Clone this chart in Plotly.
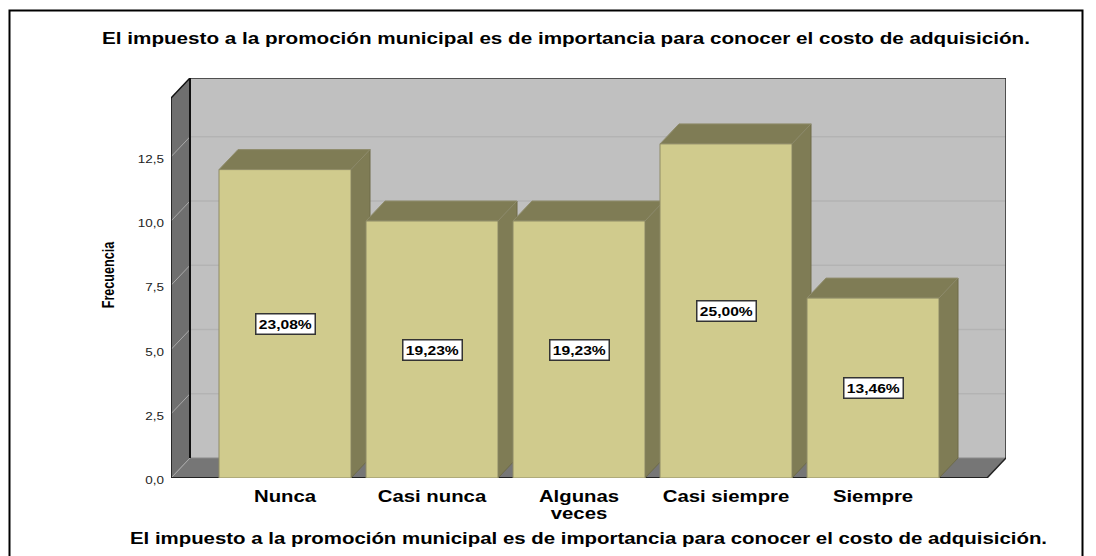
import plotly.graph_objects as go

categories = ["Nunca", "Casi nunca", "Algunas<br>veces", "Casi siempre", "Siempre"]
frequencies = [12, 10, 10, 13, 7]
percent_labels = ["23,08%", "19,23%", "19,23%", "25,00%", "13,46%"]
y_ticks = [0, 2.5, 5, 7.5, 10, 12.5]
main_title = "El impuesto a la promoción municipal es de importancia para conocer el costo de adquisición."
y_title = "Frecuencia"

W, H = 1096, 556
PX_CAT = 147.0      # pixels per category
PX_UNIT = 25.7      # pixels per frequency unit
DX = 19 / PX_CAT    # depth in x units
DY = 20 / PX_UNIT   # depth in y units
BAR_W = 132 / PX_CAT
L, R, T, B = 171, 1006, 78, 478
x_range = [(L - 285) / PX_CAT, (R - 285) / PX_CAT]
y_range = [0, (B - T) / PX_UNIT]
y_front_top = y_range[1] - DY
x_front_right = x_range[1] - DX
x_wall = x_range[0] + DX

FRONT, SHADE, EDGE = "#D0CB8D", "#7F7C55", "#8E8B66"
SANS = "Liberation Sans"
fig = go.Figure()


def poly(xs, ys, color, line):
    fig.add_trace(go.Scatter(x=xs, y=ys, mode="lines", fill="toself", fillcolor=color,
                             line=dict(color=line, width=1), hoverinfo="skip", showlegend=False))


for i, v in enumerate(frequencies):
    xl, xr = i - BAR_W / 2, i + BAR_W / 2
    poly([xr, xr + DX, xr + DX, xr, xr], [0, DY, v + DY, v, 0], SHADE, "#6E6B49")
    poly([xl, xl + DX, xr + DX, xr, xl], [v, v + DY, v + DY, v, v], SHADE, "#8F8C6C")

fig.add_trace(go.Bar(x=list(range(len(categories))), y=frequencies, width=BAR_W, xaxis="x2", yaxis="y2",
                     marker=dict(color=FRONT, line=dict(color=EDGE, width=1)), hoverinfo="skip", showlegend=False))


def seg(x0, y0, x1, y1, color, width=1, layer="below"):
    return dict(type="line", xref="x", yref="y", x0=x0, y0=y0, x1=x1, y1=y1,
                line=dict(color=color, width=width), layer=layer)


shapes = [
    dict(type="rect", xref="x", yref="y", x0=x_wall, x1=x_range[1], y0=DY, y1=y_range[1],
         fillcolor="#C0C0C0", line=dict(width=0), layer="below"),
    dict(type="path", xref="x", yref="y", layer="below", fillcolor="#6F6F6F", line=dict(width=0),
         path=f"M{x_range[0]},0 L{x_wall},{DY} L{x_wall},{y_range[1]} L{x_range[0]},{y_front_top} Z"),
    dict(type="path", xref="x", yref="y", layer="below", fillcolor="#767676", line=dict(width=0),
         path=f"M{x_range[0]},0 L{x_wall},{DY} L{x_range[1]},{DY} L{x_front_right},0 Z"),
]
for t in y_ticks[1:]:
    shapes.append(seg(x_wall, t + DY, x_range[1], t + DY, "#B3B3B3", 1.5))
    shapes.append(seg(x_range[0], t, x_wall, t + DY, "#A8A8A8", 1))
shapes += [
    seg(x_range[0], 0, x_wall, DY, "#A8A8A8", 1),
    seg(x_wall, DY, x_range[1], DY, "#8A8A8A", 1),
    seg(x_wall, y_range[1], x_range[1], y_range[1], "#2A2A2A", 1.5),
    seg(x_range[1], DY, x_range[1], y_range[1], "#2A2A2A", 1.5),
    seg(x_wall, DY, x_wall, y_range[1], "#111111", 2),
    seg(x_range[0], 0, x_range[0], y_front_top, "#111111", 1.5),
    seg(x_range[0], y_front_top, x_wall, y_range[1], "#111111", 1.5),
    seg(x_range[0], 0, x_front_right, 0, "#222222", 2),
    seg(x_front_right, 0, x_range[1], DY, "#222222", 1.5),
    dict(type="rect", xref="paper", yref="paper", x0=9.5 / W, x1=1082.5 / W, y0=-0.02, y1=1 - 10.5 / H,
         line=dict(color="#000000", width=2), fillcolor="rgba(0,0,0,0)", layer="below"),
]

annotations = [
    dict(x=i, y=v / 2, xref="x2", yref="y2", text=p, showarrow=False, width=56, height=17,
         font=dict(family=SANS, size=13, color="#000000", weight="bold"),
         bgcolor="#FFFFFF", bordercolor="#333333", borderwidth=1.5, borderpad=1)
    for i, (v, p) in enumerate(zip(frequencies, percent_labels))
]

bold16 = dict(family=SANS, size=16, color="#000000", weight="bold")
fig.update_layout(
    width=W, height=H, autosize=False, margin=dict(l=0, r=0, t=0, b=0),
    paper_bgcolor="#FFFFFF", plot_bgcolor="rgba(0,0,0,0)", separators=",.", barmode="overlay",
    title=dict(text=main_title, x=566 / W, xanchor="center", xref="container",
               y=1 - 38 / H, yanchor="middle", yref="container", font=bold16),
    xaxis=dict(domain=[L / W, R / W], range=x_range, tickmode="array", tickvals=list(range(len(categories))),
               ticktext=categories, tickfont=bold16, ticks="", automargin=False,
               showgrid=False, zeroline=False, showline=False, ticklabelstandoff=7,
               title=dict(text=main_title, standoff=8, font=bold16)),
    yaxis=dict(domain=[1 - B / H, 1 - T / H], range=y_range, tickmode="array", tickvals=y_ticks, automargin=False,
               tickformat=".1f", tickfont=dict(family=SANS, size=11.5, color="#222222"),
               ticks="", showgrid=False, zeroline=False, showline=False, ticklabelstandoff=6,
               title=dict(text=y_title, standoff=22, font=dict(family=SANS, size=17, color="#000000", weight="bold"))),
    xaxis2=dict(overlaying="x", matches="x", domain=[L / W, R / W], visible=False, anchor="y2"),
    yaxis2=dict(overlaying="y", matches="y", domain=[1 - B / H, 1 - T / H], visible=False, anchor="x2"),
    shapes=shapes, annotations=annotations,
)

# The reference's text is horizontally stretched: widen the real text elements to match.
post = """
document.body.style.margin='0';document.body.style.overflow='hidden';
function st(sel,f){document.querySelectorAll(sel).forEach(function(t){
  var lines=t.querySelectorAll('tspan.line');
  var items=lines.length?Array.from(lines):[t];
  items.forEach(function(n,i){
    n.setAttribute('textLength',n.getComputedTextLength()*f);
    n.setAttribute('lengthAdjust','spacingAndGlyphs');
    if(i>0){n.setAttribute('dy','1.05em');}
  });
});}
st('.gtitle',1.29);st('.xtitle',1.275);st('.xtick text',1.27);st('.ytick text',1.17);
st('.annotation-text',1.2);st('.ytitle',0.74);
document.querySelectorAll('.ytick text').forEach(function(t){t.setAttribute('dy','2');});
document.querySelectorAll('.ytitle').forEach(function(t){
  t.setAttribute('transform','translate(0,-3) '+(t.getAttribute('transform')||''));});
"""
fig.write_html("out.html", post_script=post, config={"displayModeBar": False})
